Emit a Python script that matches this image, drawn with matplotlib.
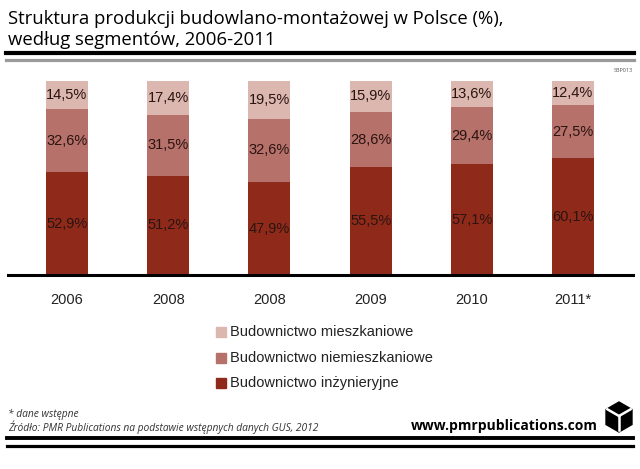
import numpy as np
import matplotlib
matplotlib.use("Agg")
import matplotlib.pyplot as plt
from matplotlib.patches import Polygon, Rectangle
from matplotlib.lines import Line2D

# data
years = ['2006', '2008', '2008', '2009', '2010', '2011*']
inzynieryjne = [52.9, 51.2, 47.9, 55.5, 57.1, 60.1]
niemieszkaniowe = [32.6, 31.5, 32.6, 28.6, 29.4, 27.5]
mieszkaniowe = [14.5, 17.4, 19.5, 15.9, 13.6, 12.4]

series_names = ['Budownictwo mieszkaniowe', 'Budownictwo niemieszkaniowe',
                'Budownictwo inżynieryjne']
c_light = '#dbb7af'
c_mid = '#b6716a'
c_dark = '#8f2a1b'

W, H = 640, 469
fig = plt.figure(figsize=(W / 100, H / 100), dpi=100)


def fx(x):
    return x / W


def fy(y):
    return 1 - y / H


# chart area (pixels: x 8..633, y 81..275)
ax = fig.add_axes([fx(8), fy(275), fx(633) - fx(8), fy(81) - fy(275)])
x = np.arange(len(years))
w = 0.415
b1 = ax.bar(x, inzynieryjne, w, color=c_dark)
b2 = ax.bar(x, niemieszkaniowe, w, bottom=inzynieryjne, color=c_mid)
bot3 = np.array(inzynieryjne) + np.array(niemieszkaniowe)
b3 = ax.bar(x, mieszkaniowe, w, bottom=bot3, color=c_light)

for bars, vals, bottoms in [(b1, inzynieryjne, np.zeros(len(x))),
                            (b2, niemieszkaniowe, np.array(inzynieryjne)),
                            (b3, mieszkaniowe, bot3)]:
    for i, v in enumerate(vals):
        ax.text(x[i], bottoms[i] + v / 2, f'{v:.1f}%'.replace('.', ','),
                ha='center', va='center', fontsize=10.5, color='#2a1410',
                family='Liberation Sans')

ax.set_xlim(-0.583, 5.593)
ax.set_ylim(0, 100)
for s in ['top', 'right', 'left']:
    ax.spines[s].set_visible(False)
ax.spines['bottom'].set_linewidth(2.2)
ax.spines['bottom'].set_color('black')
ax.set_yticks([])
ax.set_xticks(x)
ax.set_xticklabels(years, fontsize=10.5, family='Liberation Sans', color='#222222')
ax.tick_params(axis='x', length=0, pad=13)

# title
fig.text(fx(8), fy(19), 'Struktura produkcji budowlano-montażowej w Polsce (%),',
         fontsize=13.3, family='Open Sans', va='center', ha='left', color='black')
fig.text(fx(8), fy(40), 'według segmentów, 2006-2011',
         fontsize=13.3, family='Open Sans', va='center', ha='left', color='black')
fig.add_artist(Line2D([fx(6), fx(634)], [fy(53), fy(53)], color='black', lw=3))
fig.add_artist(Line2D([fx(6), fx(634)], [fy(60), fy(60)], color='#9a9a9a', lw=2.3))
fig.text(fx(633), fy(71), 'SBP013', fontsize=4, family='Open Sans',
         ha='right', va='center', color='#555555')

# legend
colors = [c_light, c_mid, c_dark]
for i, (name, col) in enumerate(zip(series_names, colors)):
    yy = 332 + i * 25.5
    fig.add_artist(Rectangle((fx(216), fy(yy + 5)), fx(10), 10 / H,
                             color=col, transform=fig.transFigure))
    fig.text(fx(230), fy(yy), name, fontsize=10.5, family='Liberation Sans',
             va='center', ha='left', color='#222222')

# footer
fig.text(fx(8), fy(414), '* dane wstępne', fontsize=7.4, style='italic',
         family='Open Sans', va='center', color='#333333')
fig.text(fx(8), fy(427), 'Źródło: PMR Publications na podstawie wstępnych danych GUS, 2012',
         fontsize=7.4, style='italic', family='Open Sans', va='center', color='#333333')
fig.text(fx(598), fy(426), 'www.pmrpublications.com', fontsize=10, weight='bold',
         family='Open Sans', va='center', ha='right', color='black')
fig.add_artist(Line2D([fx(7), fx(633)], [fy(438), fy(438)], color='black', lw=2.8))
fig.add_artist(Line2D([fx(7), fx(633)], [fy(445.5), fy(445.5)], color='black', lw=2.3))

# logo
cx, cy, r = 619, 417, 15
ang = np.deg2rad(np.arange(90, 450, 60))
hexpts = [(fx(cx + r * np.cos(a)), fy(cy - r * np.sin(a))) for a in ang]
fig.add_artist(Polygon(hexpts, closed=True, color='black', transform=fig.transFigure))
for a in [150, 30, 270]:
    t = np.deg2rad(a)
    fig.add_artist(Line2D([fx(cx), fx(cx + r * 0.9 * np.cos(t))],
                          [fy(cy - 1), fy(cy - 1 - r * 0.9 * np.sin(t))],
                          color='white', lw=1.8))

fig.savefig('out.png', dpi=100, facecolor='white')
